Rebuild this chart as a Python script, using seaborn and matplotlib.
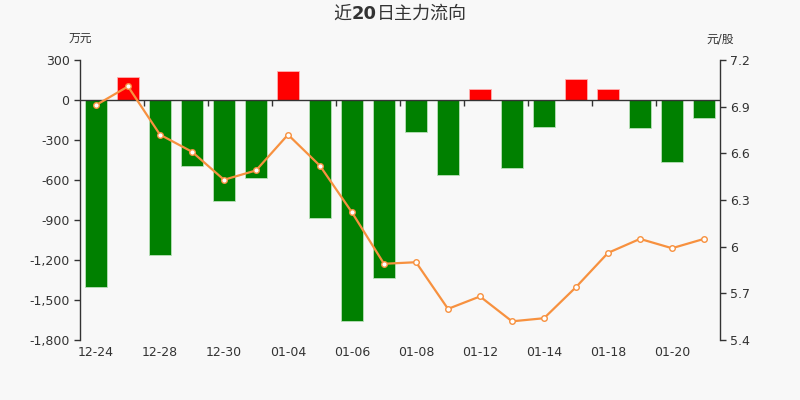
import matplotlib
matplotlib.use("Agg")
import matplotlib.pyplot as plt
import matplotlib.ticker as mticker
import numpy as np
import pandas as pd
import seaborn as sns


DATES = ["12-24", "12-25", "12-28", "12-29", "12-30", "12-31", "01-04", "01-05", "01-06", "01-07",
         "01-08", "01-11", "01-12", "01-13", "01-14", "01-15", "01-18", "01-19", "01-20", "01-21"]
FLOW = [-1400, 172, -1165, -492, -755, -585, 220, -882, -1660, -1337,
        -243, -565, 80, -510, -205, 155, 82, -207, -467, -135]
PRICE = [6.91, 7.03, 6.72, 6.61, 6.43, 6.49, 6.72, 6.52, 6.22, 5.89,
         5.90, 5.60, 5.68, 5.52, 5.54, 5.74, 5.96, 6.05, 5.99, 6.05]
LEFT_TICKS = [300, 0, -300, -600, -900, -1200, -1500, -1800]
RIGHT_TICKS = [7.2, 6.9, 6.6, 6.3, 6.0, 5.7, 5.4]
TITLE_PARTS = [("近", "normal"), ("20", "bold"), ("日主力流向", "normal")]

BG = "#f8f8f8"
TXT = "#333333"
RED = "#ff0000"
GREEN = "#008000"
ORANGE = "#f7913f"


def draw_title(fig, parts, y, size):
    # build the title piece by piece so only the digits are bold
    renderer = fig.canvas.get_renderer()
    texts, widths = [], []
    for s, w in parts:
        t = fig.text(0, y, s, ha="left", va="center", fontsize=size, fontweight=w, color=TXT)
        widths.append(t.get_window_extent(renderer).width)
        texts.append(t)
    fig_w = fig.get_figwidth() * fig.dpi
    x = (fig_w - sum(widths)) / 2
    for t, w in zip(texts, widths):
        t.set_x(x / fig_w)
        x += w


def main() -> None:
    sns.set_theme(style="white")
    plt.rcParams["font.family"] = ["DejaVu Sans", "Noto Sans CJK SC"]

    df = pd.DataFrame({"date": DATES, "flow": FLOW, "price": PRICE})
    df["sign"] = np.where(df["flow"] >= 0, "in", "out")
    df["idx"] = np.arange(len(df))

    fig = plt.figure(figsize=(8, 4), dpi=100, facecolor=BG)
    ax = fig.add_axes([0.1, 0.15, 0.8, 0.7])
    ax.set_facecolor(BG)

    sns.barplot(data=df, x="date", y="flow", hue="sign", order=DATES,
                palette={"in": RED, "out": GREEN}, dodge=False, width=0.7, saturation=1,
                legend=False, edgecolor="#b8e0b8", linewidth=0.6, ax=ax)
    for patch in ax.patches:
        if patch.get_facecolor()[0] > 0.9:
            patch.set_edgecolor("#ffb0b0")

    ymin, ymax = LEFT_TICKS[-1], LEFT_TICKS[0]
    ax.set_ylim(ymin, ymax)
    ax.set_xlim(-0.5, len(DATES) - 0.5)
    ax.set_yticks(LEFT_TICKS)
    ax.yaxis.set_major_formatter(mticker.FuncFormatter(lambda v, p: f"{int(v):,}"))
    ax.set_xticks(range(0, len(DATES), 2))
    ax.set_xticklabels(DATES[::2])
    ax.tick_params(axis="x", length=0, pad=4, labelsize=9, labelcolor=TXT)
    ax.tick_params(axis="y", length=4, width=1, color=TXT, labelsize=9, labelcolor=TXT, left=True, direction="out")
    ax.set_xlabel("")
    ax.set_ylabel("")
    for s in ["top", "right", "bottom"]:
        ax.spines[s].set_visible(False)
    ax.spines["left"].set_color(TXT)
    ax.spines["left"].set_linewidth(1)
    ax.axhline(0, color=TXT, linewidth=1, zorder=5)

    # zero axis tick marks between category pairs
    zero_pos = (0 - ymin) / (ymax - ymin)
    zax = ax.secondary_xaxis(zero_pos)
    zax.set_xticks(np.arange(1.5, len(DATES) - 0.5, 2))
    zax.xaxis.set_ticks_position("bottom")
    zax.tick_params(axis="x", length=4, width=1, color=TXT, labelbottom=False, labeltop=False,
                    direction="out", bottom=True, top=False)
    zax.set_xticklabels([])
    zax.spines["bottom"].set_color(TXT)
    zax.spines["bottom"].set_linewidth(1)
    zax.spines["top"].set_visible(False)

    ax2 = ax.twinx()
    sns.lineplot(data=df, x="idx", y="price", color=ORANGE, linewidth=1.6, marker="o",
                 markersize=4, markerfacecolor="white", markeredgecolor=ORANGE,
                 markeredgewidth=1, ax=ax2)
    ax2.set_ylim(RIGHT_TICKS[-1], RIGHT_TICKS[0])
    ax2.set_yticks(RIGHT_TICKS)
    ax2.yaxis.set_major_formatter(mticker.FuncFormatter(lambda v, p: f"{v:g}"))
    ax2.tick_params(axis="y", length=4, width=1, color=TXT, labelsize=9, labelcolor=TXT, right=True, direction="out")
    ax2.set_ylabel("")
    ax2.set_xlabel("")
    for s in ["top", "left", "bottom"]:
        ax2.spines[s].set_visible(False)
    ax2.spines["right"].set_color(TXT)
    ax2.spines["right"].set_linewidth(1)
    ax2.set_xlim(-0.5, len(DATES) - 0.5)

    draw_title(fig, TITLE_PARTS, 0.965, 13)
    fig.text(0.1, 0.903, "万元", ha="center", va="center", fontsize=8.5, color=TXT)
    fig.text(0.9, 0.903, "元/股", ha="center", va="center", fontsize=8.5, color=TXT)

    fig.savefig("out.png", dpi=100, facecolor=BG)
    plt.close(fig)


if __name__ == "__main__":
    main()
